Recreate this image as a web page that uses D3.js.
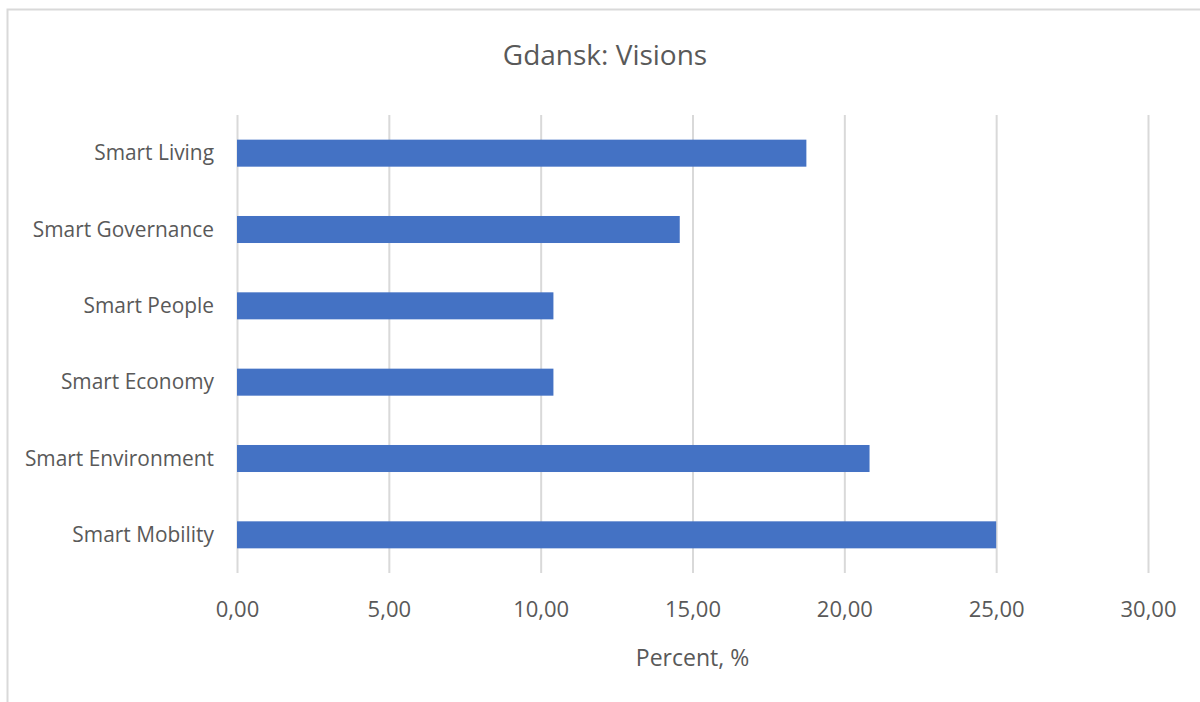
<!DOCTYPE html>
<html>
<head>
<meta charset="utf-8">
<script src="https://cdn.jsdelivr.net/npm/d3@7"></script>
<style>
  html, body { margin: 0; padding: 0; background: #fff; }
  svg { display: block; }
  text { font-family: "Open Sans", "Noto Sans", sans-serif; fill: #595959; }
</style>
</head>
<body>
<svg id="chart" width="1200" height="702"></svg>
<script>
// Share of vision statements per smart-city dimension, Gdansk
const categories = ["Smart Living", "Smart Governance", "Smart People", "Smart Economy", "Smart Environment", "Smart Mobility"];
const values = [18.75, 14.58, 10.42, 10.42, 20.83, 25.00];
const xTicks = [0, 5, 10, 15, 20, 25, 30];
const title = "Gdansk: Visions";
const xTitle = "Percent, %";

const W = 1200, H = 702;
const margin = { top: 115, right: 52, bottom: 129, left: 237 };
const svg = d3.select("#chart");

// chart frame
svg.append("rect")
  .attr("x", 7.5).attr("y", 9.5)
  .attr("width", W + 10).attr("height", H + 10)
  .attr("fill", "none").attr("stroke", "#d9d9d9").attr("stroke-width", 2);

const x = d3.scaleLinear().domain([0, 30]).range([margin.left, W - margin.right]);
const y = d3.scaleBand().domain(categories).range([margin.top, H - margin.bottom]).paddingInner(0.646).paddingOuter(0.323);

const fmt = v => d3.format(".2f")(v).replace(".", ",");

// vertical gridlines + x axis labels
const xAxis = d3.axisBottom(x).tickValues(xTicks).tickFormat(fmt).tickSize(-(H - margin.bottom - margin.top)).tickPadding(28);
const gx = svg.append("g").attr("transform", `translate(0,${H - margin.bottom})`).call(xAxis);
gx.select(".domain").remove();
gx.selectAll(".tick line").attr("stroke", "#d9d9d9").attr("stroke-width", 2);
gx.selectAll(".tick text").attr("font-size", 22).style("fill", "#595959")
  .style("font-family", "'Open Sans', sans-serif");

// bars
svg.append("g").selectAll("rect").data(categories).join("rect")
  .attr("x", x(0))
  .attr("y", d => y(d))
  .attr("width", (d, i) => x(values[i]) - x(0))
  .attr("height", y.bandwidth())
  .attr("fill", "#4472c4");

// category labels (slightly condensed)
const sx = 0.95;
const yAxis = d3.axisLeft(y).tickSize(0).tickPadding(23);
const gy = svg.append("g").attr("transform", `translate(${margin.left},0)`).call(yAxis);
gy.select(".domain").remove();
gy.selectAll(".tick text").attr("font-size", 22).style("fill", "#595959")
  .style("font-family", "'Open Sans', sans-serif")
  .attr("x", -23 / sx)
  .attr("transform", `scale(${sx},1)`);

// title
svg.append("text").attr("x", 605).attr("y", 65).attr("text-anchor", "middle")
  .attr("font-size", 28).text(title);

// axis title
svg.append("text").attr("x", (x(0) + x(30)) / 2).attr("y", 666).attr("text-anchor", "middle")
  .attr("font-size", 23).text(xTitle);
</script>
</body>
</html>
